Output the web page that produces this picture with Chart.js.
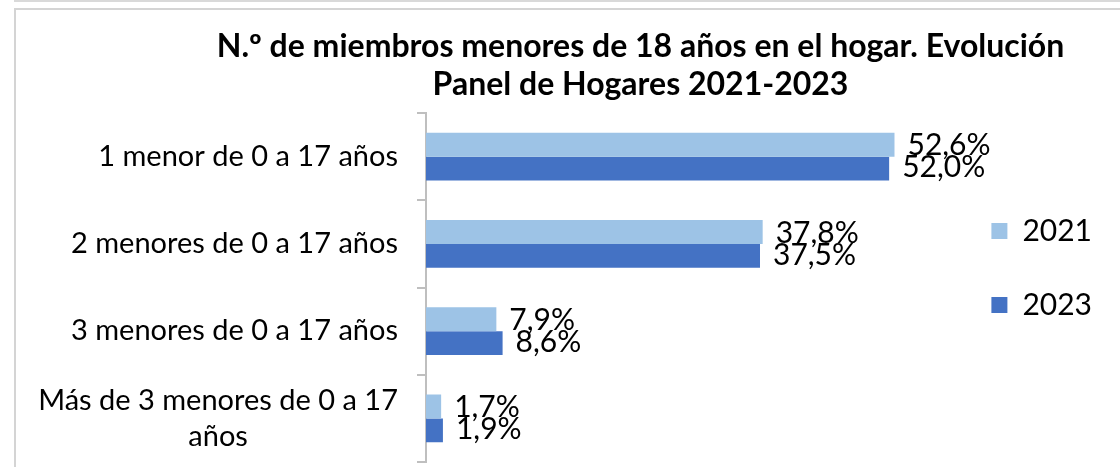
<!DOCTYPE html>
<html lang="es">
<head>
<meta charset="utf-8">
<script src="https://cdn.jsdelivr.net/npm/chart.js@4.4.1/dist/chart.umd.min.js"></script>
<style>
  html, body { margin: 0; padding: 0; background: #fff; overflow: hidden; }
  .topline { position: absolute; left: 14px; top: 0; width: 1106px; height: 2px; background: #d9d9d9; }
  .frame { position: absolute; left: 14px; top: 8px; width: 1120px; height: 480px; border: 2px solid #d4d4d4; box-sizing: border-box; }
  .box { position: absolute; left: 16px; top: 10px; width: 1104px; height: 457px; }
</style>
</head>
<body>
<div class="topline"></div>
<div class="frame"></div>
<div class="box"><canvas id="chart"></canvas></div>
<script>
const titleLines = ["N.º de miembros menores de 18 años en el hogar. Evolución", "Panel de Hogares 2021-2023"];
const categories = [
  ["1 menor de 0 a 17 años"],
  ["2 menores de 0 a 17 años"],
  ["3 menores de 0 a 17 años"],
  ["Más de 3 menores de 0 a 17", "años"]
];
const seriesNames = ["2021", "2023"];
const values2021 = [52.6, 37.8, 7.9, 1.7];
const values2023 = [52.0, 37.5, 8.6, 1.9];

// category names drawn by hand: right-aligned block, lines centred inside it
const categoryLabels = {
  id: "categoryLabels",
  afterDraw(chart) {
    const {ctx} = chart;
    const y = chart.scales.y;
    ctx.save();
    ctx.font = "29px Lato";
    ctx.fillStyle = "#000";
    ctx.textAlign = "center";
    ctx.textBaseline = "middle";
    y.getLabels().forEach((lines, i) => {
      const cy = y.getPixelForValue(i);
      const w = Math.max(...lines.map(l => ctx.measureText(l).width));
      const cx = y.right - 28 - w / 2;
      lines.forEach((l, j) => ctx.fillText(l, cx, cy + (j - (lines.length - 1) / 2) * 36));
    });
    ctx.restore();
  }
};

const barValueLabels = {
  id: "barValueLabels",
  afterDatasetsDraw(chart) {
    const {ctx} = chart;
    ctx.save();
    ctx.font = "30px Lato";
    ctx.fillStyle = "#000";
    ctx.textAlign = "left";
    ctx.textBaseline = "middle";
    chart.data.datasets.forEach((ds, di) => {
      chart.getDatasetMeta(di).data.forEach((bar, i) => {
        const txt = ds.data[i].toFixed(1).replace(".", ",") + "%";
        ctx.fillText(txt, bar.x + 13, bar.y + (di === 0 ? 1 : -1));
      });
    });
    ctx.restore();
  }
};

// the original title sits centred over a wider box than what is visible,
// and the legend sits a bit lower/left than Chart.js puts it
const nudgeBoxes = {
  id: "nudgeBoxes",
  afterLayout(chart) {
    chart.titleBlock.left += 75;
    chart.titleBlock.right += 75;
    chart.legend.top += 32;
    chart.legend.bottom += 32;
    chart.legend.left -= 13;
    chart.legend.right -= 13;
  }
};

new Chart(document.getElementById("chart"), {
  type: "bar",
  data: {
    labels: categories,
    datasets: [
      {label: seriesNames[0], data: values2021, backgroundColor: "#9dc3e6", categoryPercentage: .55, barPercentage: 1},
      {label: seriesNames[1], data: values2023, backgroundColor: "#4472c4", categoryPercentage: .55, barPercentage: 1}
    ]
  },
  options: {
    indexAxis: "y",
    responsive: true,
    maintainAspectRatio: false,
    animation: false,
    layout: {padding: {top: 0, right: 5, bottom: 5, left: 0}},
    plugins: {
      tooltip: {enabled: false},
      title: {display: true, text: titleLines, color: "#000", font: {family: "Lato", size: 32, weight: "bold", lineHeight: 38 / 32}, padding: {top: 18, bottom: 9}},
      legend: {position: "right", labels: {boxWidth: 16, boxHeight: 16, padding: 44, color: "#000", font: {family: "Lato", size: 30}}}
    },
    scales: {
      x: {display: false, min: 0, max: 60},
      y: {
        afterFit(scale) { scale.width = 410; },
        ticks: {display: false},
        grid: {drawOnChartArea: false, drawTicks: true, tickLength: 9, color: "#bfbfbf", lineWidth: 2, offset: true},
        border: {color: "#bfbfbf", width: 2}
      }
    }
  },
  plugins: [categoryLabels, barValueLabels, nudgeBoxes]
});
</script>
</body>
</html>
